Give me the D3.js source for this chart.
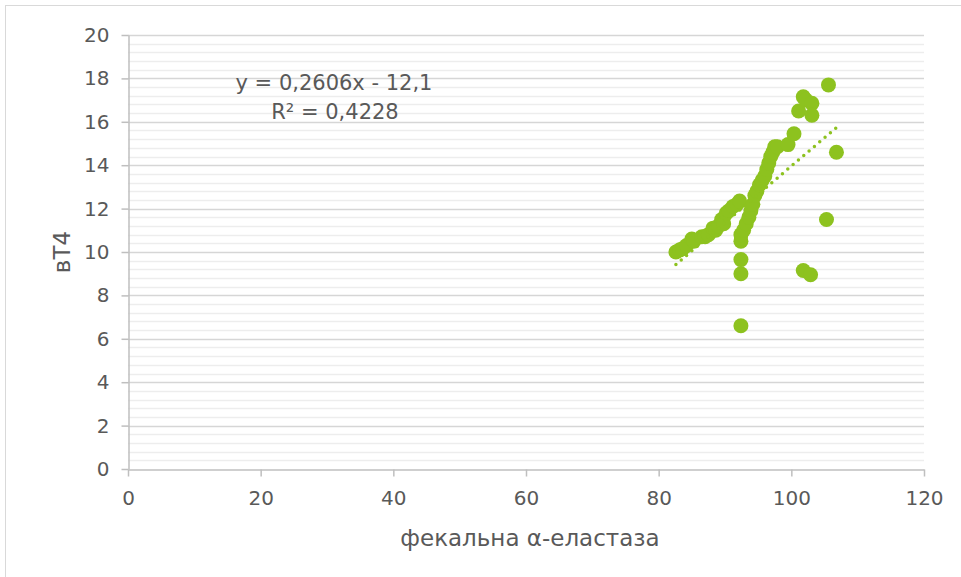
<!DOCTYPE html>
<html><head><meta charset="utf-8">
<script src="https://cdn.jsdelivr.net/npm/d3@7"></script>
<style>body{margin:0;background:#fff}svg{display:block}</style>
</head><body>
<svg id="c" width="961" height="577"></svg>
<script>
const xValues = [82.6,83.2,83.6,84.2,85.0,85.3,86.5,87.0,87.5,88.2,88.6,89.0,89.5,89.8,90.2,90.6,91.2,91.8,92.2,
  92.4,92.4,92.4,92.4,92.4,
  92.8,93.2,93.6,93.9,94.2,94.5,94.8,95.2,95.6,96.0,96.3,96.6,96.9,97.2,97.5,97.9,99.5,100.4,
  101.1,101.8,102.2,103.1,103.1,105.6,
  106.8,105.3,101.8,102.9];
const yValues = [10.0,10.1,10.15,10.3,10.6,10.5,10.7,10.7,10.8,11.1,11.0,11.2,11.5,11.3,11.8,11.9,12.1,12.2,12.35,
  10.5,10.8,9.65,9.0,6.6,
  11.0,11.3,11.6,11.9,12.2,12.6,12.8,13.1,13.3,13.5,13.8,14.1,14.4,14.6,14.85,14.85,14.95,15.45,
  16.5,17.15,17.0,16.85,16.3,17.7,
  14.6,11.5,9.15,8.95];
const xTicks = [0,20,40,60,80,100,120];
const yTicks = [0,2,4,6,8,10,12,14,16,18,20];
const trendSlope = 0.2606, trendIntercept = -12.1;
const eqLines = ["y = 0,2606x - 12,1", "R² = 0,4228"];
const xTitle = "фекальна α-еластаза";
const yTitle = "вТ4";

const svg = d3.select("#c");
const font = "'DejaVu Sans', sans-serif";
const txt = "#595959";
svg.append("rect").attr("x",5.5).attr("y",5.5).attr("width",1000).attr("height",1000)
  .attr("fill","none").attr("stroke","#d9d9d9");

const x = d3.scaleLinear().domain([0,120]).range([128,924]);
const y = d3.scaleLinear().domain([0,20]).range([469,35]);

// minor gridlines
const minor = d3.range(0,20.001,0.4).filter(v => Math.abs(v/2 - Math.round(v/2))>1e-6);
svg.append("g").selectAll("line").data(minor).join("line")
  .attr("x1",x(0)).attr("x2",x(120)).attr("y1",d=>Math.round(y(d))+0.5).attr("y2",d=>Math.round(y(d))+0.5)
  .attr("stroke","#ededed").attr("stroke-width",1.5);
// major gridlines
svg.append("g").selectAll("line").data(yTicks.slice(1)).join("line")
  .attr("x1",x(0)).attr("x2",x(120)).attr("y1",d=>Math.round(y(d))+0.5).attr("y2",d=>Math.round(y(d))+0.5)
  .attr("stroke","#d6d6d6").attr("stroke-width",1.5);

// axes
const xa = svg.append("g").attr("transform",`translate(0,${Math.round(y(0))+0.5})`)
  .call(d3.axisBottom(x).tickValues(xTicks).tickSize(7).tickPadding(14).tickSizeOuter(0));
const ya = svg.append("g").attr("transform",`translate(${Math.round(x(0))+0.5},0)`)
  .call(d3.axisLeft(y).tickValues(yTicks).tickSize(7).tickPadding(12).tickSizeOuter(0));
[xa,ya].forEach(a=>{
  a.selectAll("path,line").attr("stroke","#bfbfbf").attr("stroke-width",1.5);
  a.selectAll("text").attr("fill",txt).attr("font-family",font).attr("font-size",20);
});

// points
const pts = xValues.map((v,i)=>[v,yValues[i]]);
svg.append("g").selectAll("circle").data(pts).join("circle")
  .attr("cx",d=>x(d[0])).attr("cy",d=>y(d[1])).attr("r",7.5).attr("fill","#8dc21f");

// trendline
const xmin = d3.min(xValues), xmax = d3.max(xValues);
svg.append("line").attr("x1",x(xmin)).attr("y1",y(trendSlope*xmin+trendIntercept))
  .attr("x2",x(xmax)).attr("y2",y(trendSlope*xmax+trendIntercept))
  .attr("stroke","#8dc21f").attr("stroke-width",3.5).attr("stroke-dasharray","0,7").attr("stroke-linecap","round");

// equation
svg.append("text").attr("x",334).attr("y",90).attr("text-anchor","middle").attr("font-family",font)
  .attr("font-size",21).attr("fill",txt).text(eqLines[0]);
svg.append("text").attr("x",335).attr("y",119).attr("text-anchor","middle").attr("font-family",font)
  .attr("font-size",21).attr("fill",txt).text(eqLines[1]);

// titles
svg.append("text").attr("x",530).attr("y",546).attr("text-anchor","middle").attr("font-family",font)
  .attr("font-size",23).attr("fill",txt).text(xTitle);
svg.append("text").attr("transform","translate(70,252) rotate(-90)").attr("text-anchor","middle")
  .attr("font-family",font).attr("font-size",23).attr("fill",txt).text(yTitle);
</script>
</body></html>
